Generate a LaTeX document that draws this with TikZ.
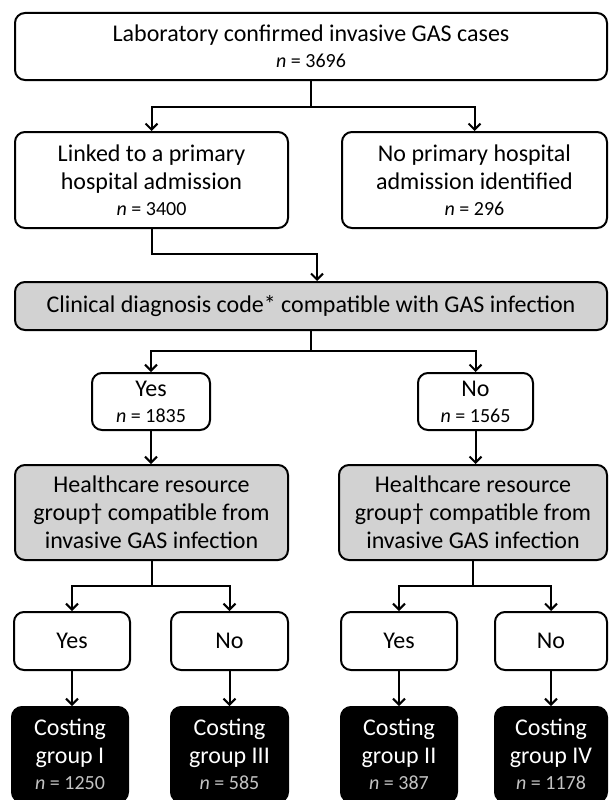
\documentclass[tikz,border=0pt]{standalone}
\usepackage{fontspec}
\setmainfont{Carlito}
\usetikzlibrary{arrows.meta}
\definecolor{boxgray}{RGB}{210,210,210}
\definecolor{ngray}{RGB}{195,195,195}
\newcommand{\nval}[1]{{\fontsize{20}{22}\selectfont\textit{n} = #1}}
\begin{document}
\begin{tikzpicture}[x=1pt,y=-1pt,
  base/.style={draw=black, line width=2pt, rounded corners=10pt, align=center, inner sep=0pt, font=\fontsize{24}{28}\selectfont},
  wbox/.style={base, fill=white},
  gbox/.style={base, fill=boxgray},
  kbox/.style={base, fill=black, text=white},
  sz/.style 2 args={minimum width=#1, minimum height=#2},
  arr/.style={line width=2pt, -{Straight Barb[length=6pt,width=12pt,line width=2pt]}},
  ln/.style={line width=2pt}
]
\useasboundingbox (0,0) rectangle (610,800);
\node[wbox, sz={592}{67}] (top) at (311,46.5) {Laboratory confirmed invasive GAS cases\\[-2pt]\nval{3696}};
\node[wbox, sz={273}{96}] (linked) at (151.5,180) {Linked to a primary\\hospital admission\\[-2pt]\nval{3400}};
\node[wbox, sz={265}{96}] (noprim) at (474.5,180) {No primary hospital\\admission identified\\[-2pt]\nval{296}};
\node[gbox, sz={592}{48}] (clin) at (311,306) {Clinical diagnosis code* compatible with GAS infection};
\node[wbox, sz={118}{57}] (yes1) at (151,401.5) {Yes\\[-2pt]\nval{1835}};
\node[wbox, sz={115}{57}] (no1) at (475.5,401.5) {No\\[-2pt]\nval{1565}};
\node[gbox, sz={273}{95}] (hrg1) at (151.5,512.5) {Healthcare resource\\group† compatible from\\invasive GAS infection};
\node[gbox, sz={268}{95}] (hrg2) at (473,512.5) {Healthcare resource\\group† compatible from\\invasive GAS infection};
\node[wbox, sz={116}{58}] (y2a) at (72,641) {Yes};
\node[wbox, sz={117}{58}] (n2a) at (229.5,641) {No};
\node[wbox, sz={116}{58}] (y2b) at (399,641) {Yes};
\node[wbox, sz={112}{58}] (n2b) at (551,641) {No};
\node[kbox, sz={116}{95}] (c1) at (70,754.5) {Costing\\group I\\[-2pt]\textcolor{ngray}{\nval{1250}}};
\node[kbox, sz={117}{95}] (c3) at (229.5,754.5) {Costing\\group III\\[-2pt]\textcolor{ngray}{\nval{585}}};
\node[kbox, sz={116}{95}] (c2) at (399,754.5) {Costing\\group II\\[-2pt]\textcolor{ngray}{\nval{387}}};
\node[kbox, sz={112}{95}] (c4) at (551,754.5) {Costing\\group IV\\[-2pt]\textcolor{ngray}{\nval{1178}}};
% connectors
\draw[ln] (top.south) -- ++(0,26) coordinate (j1);
\draw[arr] (j1) -| (linked.north);
\draw[arr] (j1) -| (noprim.north);
\coordinate (j2) at (317,254);
\draw[arr] (linked.south) |- (j2) -- (j2 |- clin.north);
\draw[ln] (clin.south) -- ++(0,20) coordinate (j3);
\draw[arr] (j3) -| (yes1.north);
\draw[arr] (j3) -| (no1.north);
\draw[arr] (yes1.south) -- (yes1.south |- hrg1.north);
\draw[arr] (no1.south) -- (no1.south |- hrg2.north);
\draw[ln] (hrg1.south) -- ++(0,25) coordinate (j4);
\draw[arr] (j4) -| (y2a.north);
\draw[arr] (j4) -| (n2a.north);
\draw[ln] (hrg2.south) -- ++(0,25) coordinate (j5);
\draw[arr] (j5) -| (y2b.north);
\draw[arr] (j5) -| (n2b.north);
\draw[arr] (y2a.south) -- (y2a.south |- c1.north);
\draw[arr] (n2a.south) -- (n2a.south |- c3.north);
\draw[arr] (y2b.south) -- (y2b.south |- c2.north);
\draw[arr] (n2b.south) -- (n2b.south |- c4.north);
\end{tikzpicture}
\end{document}
